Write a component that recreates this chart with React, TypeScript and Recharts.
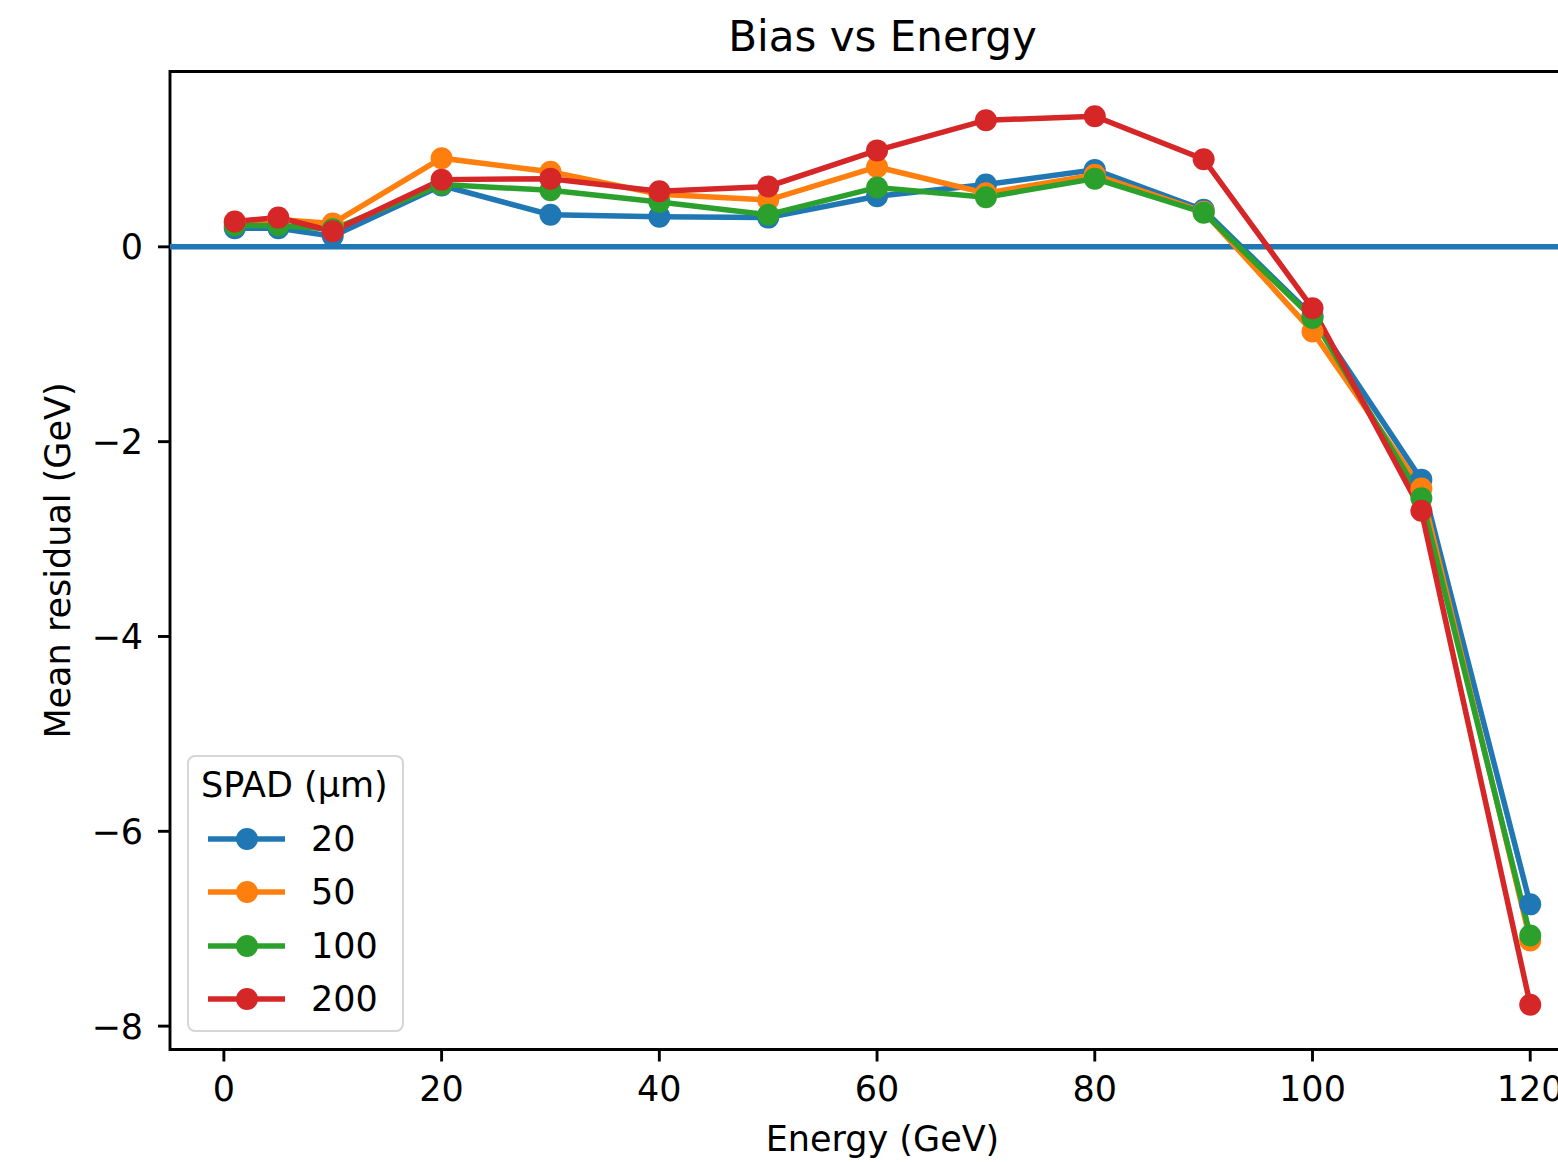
import React from 'react';
import { LineChart, Line, XAxis, YAxis, ReferenceLine, ReferenceArea, Legend } from 'recharts';

const energies = [1, 5, 10, 20, 30, 40, 50, 60, 70, 80, 90, 100, 110, 120];
const spad20 = [0.19, 0.19, 0.11, 0.63, 0.33, 0.31, 0.30, 0.52, 0.64, 0.79, 0.38, -0.71, -2.39, -6.75];
const spad50 = [0.25, 0.28, 0.24, 0.91, 0.77, 0.54, 0.48, 0.82, 0.55, 0.74, 0.36, -0.87, -2.48, -7.12];
const spad100 = [0.22, 0.22, 0.18, 0.64, 0.58, 0.46, 0.33, 0.61, 0.51, 0.70, 0.35, -0.73, -2.58, -7.07];
const spad200 = [0.26, 0.30, 0.16, 0.69, 0.70, 0.57, 0.62, 0.99, 1.30, 1.34, 0.90, -0.63, -2.71, -7.78];

const seriesNames = ['20', '50', '100', '200'];
const seriesColors = ['#1f77b4', '#ff7f0e', '#2ca02c', '#d62728'];
const seriesValues = [spad20, spad50, spad100, spad200];

const xTicks = [0, 20, 40, 60, 80, 100, 120];
const yTicks = [-8, -6, -4, -2, 0];
const xDomain = [-4.95, 125.95];
const yDomain = [-8.24, 1.80];

const titleText = 'Bias vs Energy';
const xLabelText = 'Energy (GeV)';
const yLabelText = 'Mean residual (GeV)';
const legendTitle = 'SPAD (μm)';

const data = energies.map((e, i) => {
  const row: Record<string, number> = { e };
  seriesNames.forEach((n, k) => {
    row['s' + n] = seriesValues[k][i];
  });
  return row;
});

const FONT = '"DejaVu Sans", sans-serif';
const FS = 35;

const fmt = (v: number) => String(v).replace('-', '\u2212');

const LegendBox = () => (
  <div
    style={{
      position: 'relative',
      width: 217,
      height: 277,
      boxSizing: 'border-box',
      border: '2.5px solid #d6d6d6',
      borderRadius: 8,
      background: 'rgba(255,255,255,0.8)',
      fontFamily: FONT,
      fontSize: FS,
      color: '#000',
    }}
  >
    <div style={{ position: 'absolute', left: 12, top: 6, whiteSpace: 'nowrap', lineHeight: '44px' }}>{legendTitle}</div>
    {seriesNames.map((n, k) => (
      <div key={n} style={{ position: 'absolute', left: 0, top: 82 + k * 53.3 - 22, height: 44, width: 210 }}>
        <svg width={100} height={44} style={{ position: 'absolute', left: 18, top: 0 }}>
          <line x1={1} x2={78} y1={22} y2={22} stroke={seriesColors[k]} strokeWidth={5.5} />
          <circle cx={40} cy={22} r={11} fill={seriesColors[k]} />
        </svg>
        <div style={{ position: 'absolute', left: 122, top: 0, lineHeight: '44px' }}>{n}</div>
      </div>
    ))}
  </div>
);

export default function App() {
  return (
    <div style={{ position: 'absolute', left: 0, top: 0, width: 1558, height: 1162, overflow: 'hidden', background: '#fff' }}>
      <div
        style={{
          position: 'absolute',
          left: 0,
          width: 1765,
          top: 12,
          textAlign: 'center',
          fontFamily: FONT,
          fontSize: 42,
          lineHeight: '50px',
          color: '#000',
        }}
      >
        {titleText}
      </div>
      <LineChart
        width={1600}
        height={1162}
        data={data}
        margin={{ top: 71.5, right: 5, bottom: 0, left: 0 }}
        style={{ position: 'absolute', left: 0, top: 0 }}
      >
        <ReferenceArea
          x1={xDomain[0]}
          x2={xDomain[1]}
          y1={yDomain[0]}
          y2={yDomain[1]}
          fill="none"
          stroke="#000"
          strokeWidth={2.9}
          ifOverflow="visible"
        />
        <XAxis
          dataKey="e"
          type="number"
          domain={xDomain}
          ticks={xTicks}
          allowDataOverflow
          height={112.5}
          axisLine={false}
          tickLine={{ stroke: '#000', strokeWidth: 2.9 }}
          tickSize={12}
          tickMargin={15}
          tick={{ fill: '#000', fontSize: FS, fontFamily: FONT }}
          tickFormatter={fmt}
          label={{
            content: (props: any) => {
              const vb = props.viewBox || {};
              return (
                <text
                  x={vb.x + vb.width / 2}
                  y={vb.y + 101}
                  textAnchor="middle"
                  fontSize={FS}
                  fontFamily={FONT}
                  fill="#000"
                >
                  {xLabelText}
                </text>
              );
            },
          }}
        />
        <YAxis
          type="number"
          domain={yDomain}
          ticks={yTicks}
          allowDataOverflow
          width={170}
          axisLine={false}
          tickLine={{ stroke: '#000', strokeWidth: 2.9 }}
          tickSize={12}
          tickMargin={15}
          tick={{ fill: '#000', fontSize: FS, fontFamily: FONT }}
          tickFormatter={fmt}
          label={{
            content: (props: any) => {
              const vb = props.viewBox || {};
              const cx = vb.x + 58;
              const cy = vb.y + vb.height / 2;
              return (
                <text
                  x={cx}
                  y={cy}
                  textAnchor="middle"
                  dominantBaseline="central"
                  transform={`rotate(-90 ${cx} ${cy})`}
                  fontSize={FS}
                  fontFamily={FONT}
                  fill="#000"
                >
                  {yLabelText}
                </text>
              );
            },
          }}
        />
        <ReferenceLine y={0} stroke="#1f77b4" strokeWidth={5.5} />
        {seriesNames.map((n, k) => (
          <Line
            key={n}
            dataKey={'s' + n}
            name={n}
            stroke={seriesColors[k]}
            strokeWidth={5.5}
            dot={{ r: 11, fill: seriesColors[k], stroke: seriesColors[k], strokeWidth: 0 }}
            activeDot={false}
            isAnimationActive={false}
          />
        ))}
        <Legend
          layout="vertical"
          align="center"
          verticalAlign="middle"
          wrapperStyle={{ position: 'absolute', left: 187, top: 755, width: 217, height: 277 }}
          content={() => <LegendBox />}
        />
      </LineChart>
    </div>
  );
}
